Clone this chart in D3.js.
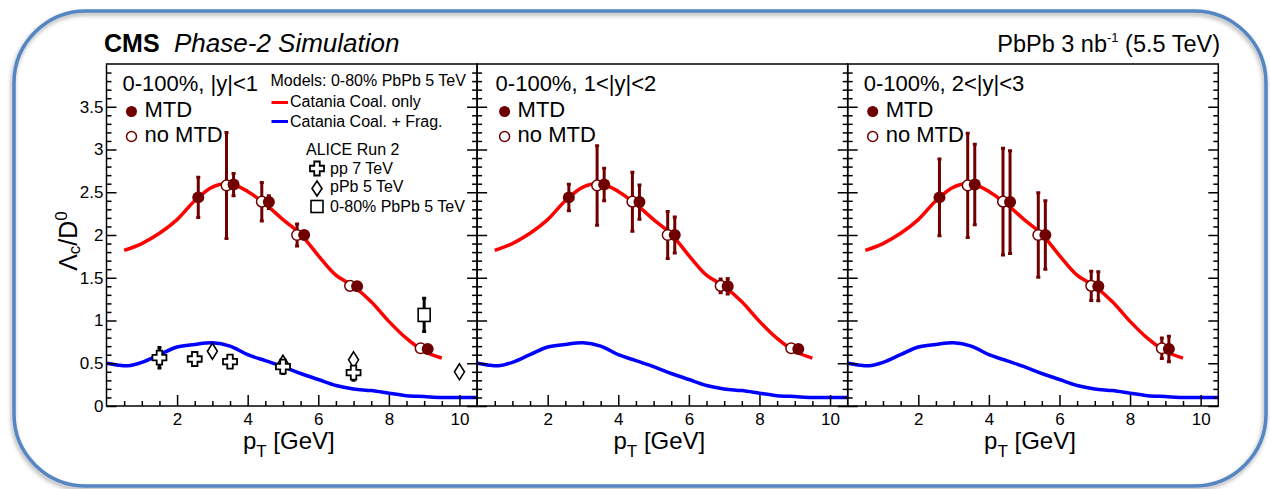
<!DOCTYPE html>
<html>
<head>
<meta charset="utf-8">
<script src="https://cdn.jsdelivr.net/npm/d3@7"></script>
<style>
  body { margin: 0; background: #fff; }
  svg { display: block; }
  text { font-family: "Liberation Sans", Arial, Helvetica, sans-serif; fill: #000; }
</style>
</head>
<body>
<svg id="chart" width="1270" height="489"></svg>
<script>
// ---- data ---------------------------------------------------------------
const panelLabels = ["0-100%, |y|<1", "0-100%, 1<|y|<2", "0-100%, 2<|y|<3"];

// CMS Phase-2 projections, Lambda_c / D0 vs pT
const ptMTD = [2.6, 3.6, 4.6, 5.6, 7.1, 9.1];
const ptNoMTD = [3.4, 4.4, 5.4, 6.9, 8.9];
const ratioMTD = [2.44, 2.59, 2.385, 2.0, 1.40, 0.667];
const ratioNoMTD = [2.58, 2.39, 2.0, 1.405, 0.675];
const errMTD = [
  [0.235, 0.13, 0.075, 0.04, 0.03, 0.03],
  [0.155, 0.19, 0.20, 0.21, 0.09, 0.03],
  [0.45, 0.47, 0.60, 0.40, 0.17, 0.15]
];
const errNoMTD = [
  [0.62, 0.225, 0.13, 0.03, 0.03],
  [0.465, 0.345, 0.275, 0.08, 0.03],
  [0.61, 0.625, 0.495, 0.17, 0.12]
];

// Catania model curves (0-80% PbPb 5 TeV)
const coalPt = [0.5, 1.0, 1.5, 2.0, 2.5, 3.0, 3.5, 4.0, 4.5, 5.0, 5.5, 6.0, 6.5, 7.0, 7.5, 8.0, 8.5, 9.0, 9.5];
const coalRatio = [1.82, 1.90, 2.02, 2.18, 2.40, 2.56, 2.60, 2.51, 2.36, 2.18, 2.01, 1.76, 1.53, 1.40, 1.22, 0.99, 0.79, 0.64, 0.56];
const fragPt = [0.0, 0.3, 0.6, 1.0, 1.5, 2.0, 2.5, 3.0, 3.5, 4.0, 4.5, 5.0, 5.5, 6.0, 6.5, 7.0, 7.5, 8.0, 8.5, 9.0, 9.5, 10.0, 10.5];
const fragRatio = [0.50, 0.48, 0.47, 0.51, 0.60, 0.69, 0.72, 0.74, 0.70, 0.60, 0.53, 0.46, 0.38, 0.31, 0.24, 0.20, 0.18, 0.15, 0.12, 0.11, 0.10, 0.10, 0.10];

// ALICE Run 2 measurements
const alicePpPt = [1.5, 2.5, 3.5, 5.0, 7.0];
const alicePpRatio = [0.565, 0.55, 0.52, 0.46, 0.39];
const alicePpErr = [0.12, 0.03, 0.03, 0.08, 0.09];
const alicePPbPt = [3.0, 5.0, 7.0, 10.0];
const alicePPbRatio = [0.64, 0.50, 0.54, 0.40];
const alicePbPbPt = [9.0];
const alicePbPbRatio = [1.065];
const alicePbPbErr = [0.195];

const xTicks = [2, 4, 6, 8, 10];
const yTicks = [0, 0.5, 1, 1.5, 2, 2.5, 3, 3.5];
const yTickLabels = ["0", "0.5", "1", "1.5", "2", "2.5", "3", "3.5"];

// ---- layout --------------------------------------------------------------
const svg = d3.select("#chart");
const panelW = 370.6, plotTop = 64, plotBottom = 406, firstLeft = 106.5;
const darkRed = "#700000";

const defs = svg.append("defs");
const sh = defs.append("filter").attr("id", "frameShadow")
  .attr("x", "-5%").attr("y", "-5%").attr("width", "110%").attr("height", "115%");
sh.append("feDropShadow").attr("dx", -1).attr("dy", 2.5).attr("stdDeviation", 2.2)
  .attr("flood-color", "#000").attr("flood-opacity", 0.35);

// rounded outer frame
svg.append("rect")
  .attr("x", 14).attr("y", 11).attr("width", 1252).attr("height", 475)
  .attr("rx", 72).attr("ry", 72)
  .attr("fill", "none").attr("stroke", "#5585c2").attr("stroke-width", 3.5)
  .attr("filter", "url(#frameShadow)");

// header
svg.append("text").attr("x", 104).attr("y", 52)
  .style("font-size", "25px").style("font-weight", "bold").text("CMS");
svg.append("text").attr("x", 174).attr("y", 52)
  .style("font-size", "26px").style("font-style", "italic").text("Phase-2 Simulation");
const lumi = svg.append("text").attr("x", 1220).attr("y", 52)
  .attr("text-anchor", "end").style("font-size", "23.5px");
lumi.append("tspan").text("PbPb 3 nb");
lumi.append("tspan").attr("dy", -10).style("font-size", "13px").text("-1");
lumi.append("tspan").attr("dy", 10).text(" (5.5 TeV)");

// y-axis title
const yTitle = svg.append("text")
  .attr("transform", "translate(77,241) rotate(-90)")
  .attr("text-anchor", "middle").style("font-size", "25px");
yTitle.append("tspan").text("Λ");
yTitle.append("tspan").attr("dy", 3).style("font-size", "17px").text("c");
yTitle.append("tspan").attr("dy", -3).text("/D");
yTitle.append("tspan").attr("dy", -10).style("font-size", "17px").text("0");

const y = d3.scaleLinear().domain([0, 4]).range([plotBottom, plotTop]);

function crossPath(s, w) {
  const a = s / 2, b = w / 2;
  return `M${-b},${-a}H${b}V${-b}H${a}V${b}H${b}V${a}H${-b}V${b}H${-a}V${-b}H${-b}Z`;
}
function diamondPath(w, h) {
  return `M0,${-h / 2}L${w / 2},0L0,${h / 2}L${-w / 2},0Z`;
}

function errorBars(g, xs, ys, es, x, color, width) {
  g.selectAll(null).data(xs.map((v, k) => [v, ys[k], es[k]])).join("g")
    .each(function (d) {
      const gg = d3.select(this);
      gg.append("line")
        .attr("x1", x(d[0])).attr("x2", x(d[0]))
        .attr("y1", y(d[1] - d[2])).attr("y2", y(d[1] + d[2]))
        .attr("stroke", color).attr("stroke-width", width);
      [d[1] - d[2], d[1] + d[2]].forEach(v => {
        gg.append("line")
          .attr("x1", x(d[0]) - 2).attr("x2", x(d[0]) + 2)
          .attr("y1", y(v)).attr("y2", y(v))
          .attr("stroke", color).attr("stroke-width", width);
      });
    });
}

for (let i = 0; i < 3; i++) {
  const x0 = firstLeft + i * panelW;
  const x = d3.scaleLinear().domain([0, 10.5]).range([x0, x0 + panelW]);
  const g = svg.append("g");

  const clipId = "clip" + i;
  defs.append("clipPath").attr("id", clipId).append("rect")
    .attr("x", x0).attr("y", plotTop).attr("width", panelW).attr("height", plotBottom - plotTop);
  const plot = g.append("g").attr("clip-path", `url(#${clipId})`);

  const line = d3.line().x(d => x(d[0])).y(d => y(d[1])).curve(d3.curveCatmullRom.alpha(0.5));
  plot.append("path").datum(fragPt.map((v, k) => [v, fragRatio[k]]))
    .attr("d", line).attr("fill", "none").attr("stroke", "#0000ff").attr("stroke-width", 3.5);
  plot.append("path").datum(coalPt.map((v, k) => [v, coalRatio[k]]))
    .attr("d", line).attr("fill", "none").attr("stroke", "#ff0000").attr("stroke-width", 3.5);

  if (i === 0) {
    errorBars(plot, alicePpPt, alicePpRatio, alicePpErr, x, "#000", 3);
    errorBars(plot, alicePbPbPt, alicePbPbRatio, alicePbPbErr, x, "#000", 3);
    plot.selectAll(null).data(alicePPbPt.map((v, k) => [v, alicePPbRatio[k]])).join("path")
      .attr("transform", d => `translate(${x(d[0])},${y(d[1])})`)
      .attr("d", diamondPath(10, 16)).attr("fill", "#fff").attr("stroke", "#000").attr("stroke-width", 1.6);
    plot.selectAll(null).data(alicePpPt.map((v, k) => [v, alicePpRatio[k]])).join("path")
      .attr("transform", d => `translate(${x(d[0])},${y(d[1])})`)
      .attr("d", crossPath(14, 5.5)).attr("fill", "#fff").attr("stroke", "#000").attr("stroke-width", 1.8);
    plot.selectAll(null).data(alicePbPbPt.map((v, k) => [v, alicePbPbRatio[k]])).join("rect")
      .attr("x", d => x(d[0]) - 6).attr("y", d => y(d[1]) - 6.5)
      .attr("width", 12).attr("height", 13)
      .attr("fill", "#fff").attr("stroke", "#000").attr("stroke-width", 1.6);
  }

  // projected points: without MTD (open) then with MTD (filled)
  errorBars(plot, ptNoMTD, ratioNoMTD, errNoMTD[i], x, darkRed, 3);
  plot.selectAll(null).data(ptNoMTD.map((v, k) => [v, ratioNoMTD[k]])).join("circle")
    .attr("cx", d => x(d[0])).attr("cy", d => y(d[1])).attr("r", 5.3)
    .attr("fill", "#fff").attr("stroke", darkRed).attr("stroke-width", 1.5);
  errorBars(plot, ptMTD, ratioMTD, errMTD[i], x, darkRed, 3);
  plot.selectAll(null).data(ptMTD.map((v, k) => [v, ratioMTD[k]])).join("circle")
    .attr("cx", d => x(d[0])).attr("cy", d => y(d[1])).attr("r", 6)
    .attr("fill", darkRed);

  // axes
  const xMinor = d3.range(0.5, 10.5, 0.5).filter(v => v % 2 !== 0);
  const yMinor = d3.range(0.1, 4.0, 0.1).filter(v => Math.abs(v * 2 - Math.round(v * 2)) > 1e-6);

  const addAxis = (axis, tx, ty) => {
    const a = g.append("g").attr("transform", `translate(${tx},${ty})`).call(axis);
    a.select(".domain").remove();
    a.selectAll("line").attr("stroke", "#000").attr("stroke-width", 1.5);
    return a;
  };
  const xa = addAxis(d3.axisBottom(x).tickValues(xTicks).tickSize(-11).tickPadding(7).tickFormat(d3.format("d")), 0, plotBottom);
  xa.selectAll("text").style("font-size", "17px").attr("font-family", null);
  addAxis(d3.axisBottom(x).tickValues(xMinor).tickSize(-5).tickFormat(""), 0, plotBottom);

  const ya = addAxis(d3.axisLeft(y).tickValues(yTicks).tickSize(-10).tickPadding(3)
    .tickFormat((d, k) => i === 0 ? yTickLabels[k] : ""), x0, 0);
  ya.selectAll("text").style("font-size", "17px").attr("font-family", null);
  addAxis(d3.axisLeft(y).tickValues(yMinor).tickSize(-5).tickFormat(""), x0, 0);
  addAxis(d3.axisRight(y).tickValues(yTicks).tickSize(-10).tickFormat(""), x0 + panelW, 0);
  addAxis(d3.axisRight(y).tickValues(yMinor).tickSize(-5).tickFormat(""), x0 + panelW, 0);

  g.append("rect").attr("x", x0).attr("y", plotTop).attr("width", panelW).attr("height", plotBottom - plotTop)
    .attr("fill", "none").attr("stroke", "#000").attr("stroke-width", 1.5);

  // x-axis title
  const xt = g.append("text").attr("x", x0 + panelW / 2 - 3).attr("y", 449)
    .attr("text-anchor", "middle").style("font-size", "24px");
  xt.append("tspan").text("p");
  xt.append("tspan").attr("dy", 8).style("font-size", "17px").text("T");
  xt.append("tspan").attr("dy", -8).text(" [GeV]");

  // panel legend
  const lx = x0 + (i === 1 ? 18.5 : 16);
  g.append("text").attr("x", lx).attr("y", 91).style("font-size", "22px").text(panelLabels[i]);
  g.append("circle").attr("cx", lx + 9).attr("cy", 111.5).attr("r", 5.5).attr("fill", darkRed);
  g.append("text").attr("x", lx + 22).attr("y", 117).style("font-size", "22px").text("MTD");
  g.append("circle").attr("cx", lx + 9).attr("cy", 136.5).attr("r", 5).attr("fill", "#fff")
    .attr("stroke", darkRed).attr("stroke-width", 1.5);
  g.append("text").attr("x", lx + 22).attr("y", 142).style("font-size", "22px").text("no MTD");

  if (i === 0) {
    const lg = g.append("g").style("font-size", "16px");
    lg.append("text").attr("x", 270.5).attr("y", 86).text("Models: 0-80% PbPb 5 TeV");
    lg.append("line").attr("x1", 271.5).attr("x2", 288).attr("y1", 102.5).attr("y2", 102.5)
      .attr("stroke", "#ff0000").attr("stroke-width", 3);
    lg.append("text").attr("x", 290).attr("y", 107).text("Catania Coal. only");
    lg.append("line").attr("x1", 271.5).attr("x2", 288).attr("y1", 121.5).attr("y2", 121.5)
      .attr("stroke", "#0000ff").attr("stroke-width", 3);
    lg.append("text").attr("x", 290).attr("y", 126.5).text("Catania Coal. + Frag.");
    lg.append("text").attr("x", 306).attr("y", 155).text("ALICE Run 2");
    lg.append("path").attr("transform", "translate(317,168.5)").attr("d", crossPath(14, 5.5))
      .attr("fill", "#fff").attr("stroke", "#000").attr("stroke-width", 1.8);
    lg.append("text").attr("x", 330).attr("y", 173.5).text("pp 7 TeV");
    lg.append("path").attr("transform", "translate(317,188.5)").attr("d", diamondPath(10, 15))
      .attr("fill", "#fff").attr("stroke", "#000").attr("stroke-width", 1.6);
    lg.append("text").attr("x", 330).attr("y", 192).text("pPb 5 TeV");
    lg.append("rect").attr("x", 311).attr("y", 200.5).attr("width", 12).attr("height", 12)
      .attr("fill", "#fff").attr("stroke", "#000").attr("stroke-width", 1.6);
    lg.append("text").attr("x", 330).attr("y", 212).text("0-80% PbPb 5 TeV");
  }
}
</script>
</body>
</html>
